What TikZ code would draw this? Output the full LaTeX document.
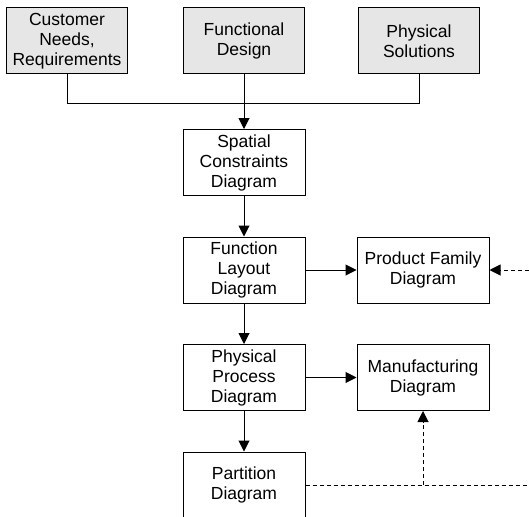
\documentclass[tikz,border=0pt]{standalone}
\usepackage{fontspec}
\setmainfont{Liberation Sans}
\usetikzlibrary{arrows.meta}
\definecolor{inputgray}{RGB}{230,230,230}

\begin{document}
\begin{tikzpicture}[x=1pt, y=-1pt, node distance=107.5pt, line width=1pt,
    box/.style={draw, minimum width=122pt, minimum height=66pt, inner sep=0pt, align=center, font=\fontsize{17.5}{20}\selectfont},
    source/.style={box, fill=inputgray, minimum width=121pt},
    wide/.style={box, minimum width=132pt},
    flow/.style={-{Triangle[length=11pt,width=11pt]}},
    feed/.style={flow, dash pattern=on 4pt off 3pt}]
    \useasboundingbox (0,0) rectangle (529,516);
    % inputs
    \node[source] (needs) at (67,41) {Customer\\Needs,\\Requirements};
    \node[source] (design) at (244,41) {Functional\\Design};
    \node[source] (solutions) at (419,41) {Physical\\Solutions};
    % main column
    \node[box] (spatial) at (244,162.5) {Spatial\\Constraints\\Diagram};
    \node[box] (layout) [below of=spatial] {Function\\Layout\\Diagram};
    \node[box] (process) [below of=layout] {Physical\\Process\\Diagram};
    \node[box] (partition) [below of=process] {Partition\\Diagram};
    % right column
    \node[wide] (family) at (423,270) {Product Family\\Diagram};
    \node[wide] (manufacturing) at (423,377.5) {Manufacturing\\Diagram};
    \draw (needs.south) -- ++(0,29) -| (solutions.south);
    \draw[flow] (design) -- (spatial);
    \draw[flow] (spatial) -- (layout);
    \draw[flow] (layout) -- (process);
    \draw[flow] (process) -- (partition);
    \draw[flow] (layout) -- (family);
    \draw[flow] (process) -- (manufacturing);
    % dashed feedback
    \coordinate (famin) at (529,270);
    \coordinate (partout) at (529,485);
    \coordinate (tap) at (manufacturing.south |- partition.east);
    \draw[feed] (famin) -- (family);
    \draw[dash pattern=on 4pt off 3pt] (partition) -- (partout);
    \draw[feed] (tap) -- (manufacturing);
\end{tikzpicture}
\end{document}
